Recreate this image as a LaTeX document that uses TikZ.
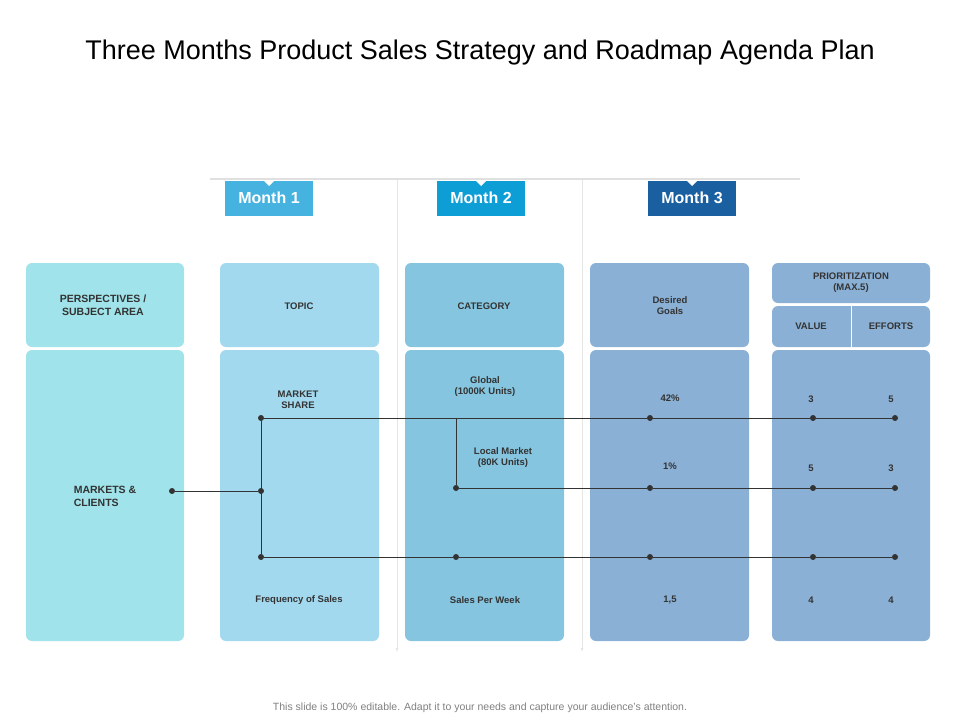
\documentclass[tikz,border=0pt]{standalone}
\usepackage{fontspec}
\setmainfont{Liberation Sans}
\usetikzlibrary{calc}
\definecolor{colA}{HTML}{A0E3EA}
\definecolor{colB}{HTML}{A3D9EF}
\definecolor{colC}{HTML}{85C5DF}
\definecolor{colD}{HTML}{8AB0D5}
\definecolor{tabA}{HTML}{45B2E0}
\definecolor{tabB}{HTML}{0E9ED6}
\definecolor{tabC}{HTML}{1A5FA0}
\definecolor{txt}{HTML}{333333}
\begin{document}
\begin{tikzpicture}[x=1pt,y=-1pt,
    panel/.style={rounded corners=6pt,draw=none},
    lbl/.style={font=\fontsize{9.5}{11}\selectfont\bfseries,text=txt,align=center},
    tab/.style={font=\fontsize{16}{18}\selectfont\bfseries,text=white,minimum width=88pt,minimum height=35pt,inner sep=0pt},
    dot/.style={circle,fill=txt,inner sep=0pt,minimum size=6pt},
    link/.style={draw=txt,line width=0.8pt}]
  \useasboundingbox (0,0) rectangle (960,720);
  % title and footer
  \node (title) at (480,53) {\fontsize{27}{32}\selectfont Three Months Product Sales Strategy and Roadmap Agenda Plan};
  \node[text=gray,font=\fontsize{10.5}{12}\selectfont] (foot) at (480,708) {This slide is 100\% editable. Adapt it to your needs and capture your audience’s attention.};
  % guide lines
  \draw[black!12,line width=1.5pt] (210,179) -- (800,179);
  \draw[black!10,-latex] (397,180) -- (397,652);
  \draw[black!10,-latex] (582,180) -- (582,652);
  % month tabs
  \foreach \x/\c/\t in {269/tabA/Month 1,481/tabB/Month 2,692/tabC/Month 3}{
    \node[tab,fill=\c] at (\x,198) {\t};
    \fill[white] (\x-6,180) -- (\x+6,180) -- (\x,186) -- cycle;
  }
  % panels
  \foreach \a/\b/\c in {26/184/colA,220/379/colB,405/564/colC,590/749/colD}{
    \fill[panel,fill=\c] (\a,263) rectangle (\b,347);
    \fill[panel,fill=\c] (\a,350) rectangle (\b,641);
  }
  \fill[panel,fill=colD] (772,263) rectangle (930,303);
  \fill[panel,fill=colD] (772,306) rectangle (930,347);
  \fill[panel,fill=colD] (772,350) rectangle (930,641);
  \draw[white] (851,306) -- (851,347);
  % headers
  \node[lbl,font=\fontsize{10.5}{12.5}\selectfont\bfseries] (hpers) at (103,305) {PERSPECTIVES /\\SUBJECT AREA};
  \node[lbl] (htopic) at (299,306) {TOPIC};
  \node[lbl] (hcat) at (484,306) {CATEGORY};
  \node[lbl] (hgoal) at (670,306) {Desired\\Goals};
  \node[lbl] (hprio) at (851,283) {PRIORITIZATION\\(MAX.5)};
  \node[lbl] (hval) at (811,326) {VALUE};
  \node[lbl] (heff) at (891,326) {EFFORTS};
  % body texts
  \node[lbl,font=\fontsize{10.5}{13}\selectfont\bfseries,align=left] (mkt) at (105,496) {MARKETS \&\\CLIENTS};
  \node[lbl] (share) at (298,400) {MARKET\\SHARE};
  \node[lbl] (glob) at (485,387) {Global\\(1000K Units)};
  \node[lbl] (local) at (503,458) {Local Market\\(80K Units)};
  \node[lbl] (freq) at (299,600) {Frequency of Sales};
  \node[lbl] (week) at (485,600) {Sales Per Week};
  \node[lbl] (g1) at (670,398) {42\%};
  \node[lbl] (g2) at (670,466) {1\%};
  \node[lbl] (g3) at (670,600) {1,5};
  \node[lbl] (v1) at (811,399) {3};
  \node[lbl] (e1) at (891,399) {5};
  \node[lbl] (v2) at (811,468) {5};
  \node[lbl] (e2) at (891,468) {3};
  \node[lbl] (v3) at (811,600) {4};
  \node[lbl] (e3) at (891,600) {4};
  % connectors
  \node[dot] (m0) at (172,491) {};
  \node[dot] (m1) at (261,491) {};
  \node[dot] (a1) at (261,418) {};
  \node[dot] (c1) at (261,557) {};
  \coordinate (a2) at (456,418);
  \node[dot] (b2) at (456,488) {};
  \node[dot] (c2) at (456,557) {};
  \foreach \r/\y in {a/418,b/488,c/557}{
    \node[dot] (\r3) at (650,\y) {};
    \node[dot] (\r4) at (813,\y) {};
    \node[dot] (\r5) at (895,\y) {};
  }
  \draw[link] (m0) -- (m1);
  \draw[link] (a1) -- (c1);
  \draw[link] (a1) -- (a3) -- (a4) -- (a5);
  \draw[link] (a2) -- (b2) -- (b3) -- (b4) -- (b5);
  \draw[link] (c1) -- (c2) -- (c3) -- (c4) -- (c5);
\end{tikzpicture}
\end{document}
